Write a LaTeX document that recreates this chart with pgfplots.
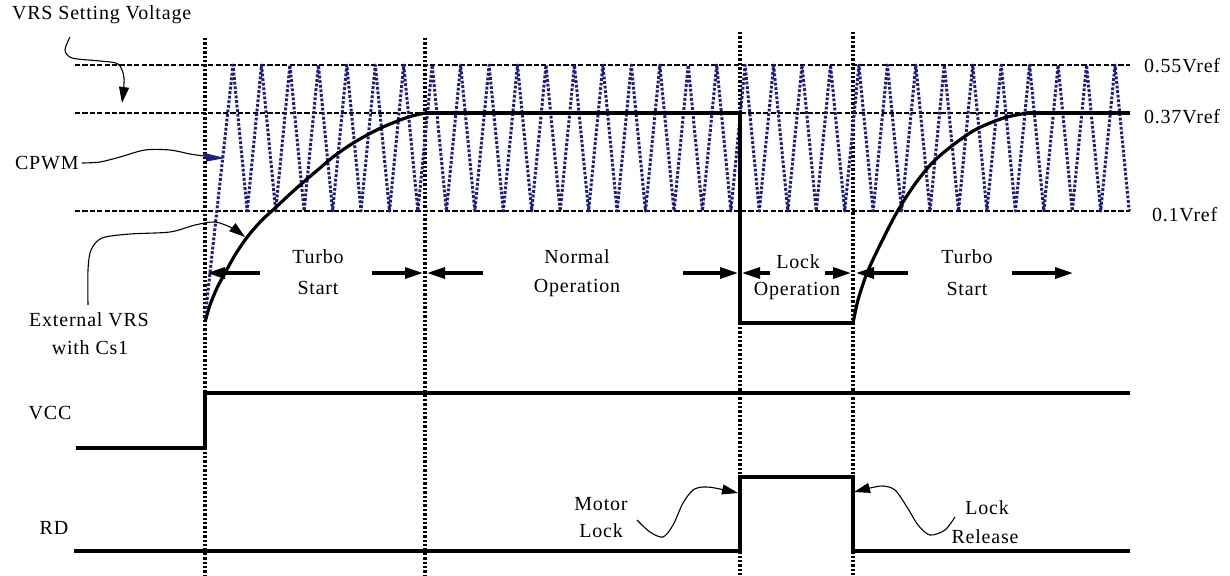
\documentclass[border=0pt]{standalone}
\usepackage{fontspec}
\setmainfont{Liberation Serif}[LetterSpace=4]
\usepackage{pgfplots}
\pgfplotsset{compat=1.18}
\usetikzlibrary{arrows.meta}
\definecolor{pwm}{RGB}{30,30,130}
\begin{document}
\begin{tikzpicture}
\begin{axis}[
  hide axis, scale only axis, width=615pt, height=287.5pt,
  xmin=0, xmax=1230, ymin=0, ymax=575, y dir=reverse, clip=false,
  every node/.style={font=\fontsize{13}{15}\selectfont, inner sep=0pt},
]
\coordinate (BL) at (axis cs:0,575);
\coordinate (TR) at (axis cs:1230,0);
% reference levels
\pgfplotsset{lvl/.style={black, line width=1.3pt, dash pattern=on 2.6pt off 1.1pt}}
\addplot[lvl] coordinates {(75,65) (1130,65)};
\addplot[lvl] coordinates {(75,113) (1130,113)};
\addplot[lvl] coordinates {(75,211) (1130,211)};
% vertical markers
\pgfplotsset{vmark/.style={black, line width=1.7pt, dash pattern=on 1.2pt off 1.0pt}}
\addplot[vmark] coordinates {(205,38) (205,575)};
\addplot[vmark] coordinates {(425,38) (425,575)};
\addplot[vmark] coordinates {(740,32) (740,575)};
\addplot[vmark] coordinates {(853,32) (853,575)};
% CPWM triangle wave
\addplot[pwm, line width=1.5pt, line join=round, dash pattern=on 1.4pt off 0.9pt] coordinates {
(205,318) (233.0,65) (247.2,211) (261.5,65) (275.7,211) (289.9,65) (304.1,211)
(318.4,65) (332.6,211) (346.8,65) (361.0,211) (375.3,65) (389.5,211)
(403.7,65) (417.9,211) (432.2,65) (446.4,211) (460.6,65) (474.8,211)
(489.1,65) (503.3,211) (517.5,65) (531.7,211) (546.0,65) (560.2,211)
(574.4,65) (588.6,211) (602.9,65) (617.1,211) (631.3,65) (645.5,211)
(659.8,65) (674.0,211) (688.2,65) (702.4,211) (716.7,65) (730.9,211)
(745.1,65) (759.3,211) (773.6,65) (787.8,211) (802.0,65) (816.2,211)
(830.5,65) (844.7,211) (858.9,65) (873.1,211) (887.4,65) (901.6,211)
(915.8,65) (930.0,211) (944.3,65) (958.5,211) (972.7,65) (986.9,211)
(1001.2,65) (1015.4,211) (1029.6,65) (1043.8,211) (1058.1,65) (1072.3,211)
(1086.5,65) (1100.7,211) (1115.0,65) (1129.2,211)};
% External VRS curve
\addplot[black, line width=1.6pt, smooth] coordinates {
(205,322) (210,305) (217,288) (225,273) (235,255) (245,240) (253,230) (263,219)
(273,210) (290,194) (307,179) (320,168) (333,157) (350,145) (367,135) (383,127)
(400,120) (412,116) (425,113)};
\addplot[black, line width=1.6pt] coordinates {(425,113) (740,113) (740,323) (853,323)};
\addplot[black, line width=1.6pt, smooth] coordinates {
(853,323) (858,300) (867,273) (880,245) (897,212) (915,184) (933,162) (953,145)
(973,131) (990,123) (1007,117) (1027,113)};
\addplot[black, line width=1.6pt] coordinates {(1027,113) (1130,113)};
% VCC and RD
\addplot[black, line width=1.6pt] coordinates {(76,448) (205,448) (205,393) (1130,393)};
\addplot[black, line width=1.6pt] coordinates {(74,551) (740,551) (740,477) (853,477) (853,551) (1130,551)};
% dimension arrows
\pgfplotsset{dimarr/.style={black, line width=1.6pt, -{Triangle[length=9pt,width=5.5pt]}}}
\addplot[dimarr] coordinates {(260,273) (207,273)};
\addplot[dimarr] coordinates {(372,273) (423,273)};
\addplot[dimarr] coordinates {(483,273) (427,273)};
\addplot[dimarr] coordinates {(683,273) (738,273)};
\addplot[dimarr] coordinates {(770,273) (742,273)};
\addplot[dimarr] coordinates {(825,273) (851,273)};
\addplot[dimarr] coordinates {(908,273) (856,273)};
\addplot[dimarr] coordinates {(1012,273) (1073,273)};
% callout squiggles
\pgfplotsset{callout/.style={black, line width=0.55pt, smooth, -{Triangle[length=8pt,width=5pt]}}}
\addplot[callout] coordinates {(70,37) (65,50) (72,58) (100,61) (118,64) (124,78) (122,103)};
\addplot[callout] coordinates {(88,305) (88,270) (91,250) (102,238) (130,234) (170,232) (195,225) (215,222) (232,228) (245,237)};
\addplot[black, line width=0.55pt, smooth] coordinates {(82,163) (100,162) (120,157) (145,150) (170,150) (190,154) (204,156)};
\addplot[pwm, fill=pwm] coordinates {(203,153) (223,158) (207,161) (203,153)};
\addplot[callout] coordinates {(637,520) (650,532) (663,537) (673,525) (683,503) (693,490) (703,487) (715,488) (738,493)};
\addplot[callout] coordinates {(955,517) (945,530) (930,535) (918,525) (907,507) (895,490) (883,486) (870,488) (854,492)};
% labels
\node[anchor=west] at (axis cs:5,15) {VRS Setting Voltage};
\node[anchor=west] at (axis cs:8,163) {CPWM};
\node at (axis cs:89,320) {External VRS};
\node at (axis cs:90,348) {with Cs1};
\node[anchor=west] at (axis cs:1137,66) {0.55Vref};
\node[anchor=west] at (axis cs:1137,117) {0.37Vref};
\node[anchor=west] at (axis cs:1145,215) {0.1Vref};
\node at (axis cs:318,257) {Turbo};
\node at (axis cs:318,288) {Start};
\node at (axis cs:577,257) {Normal};
\node at (axis cs:577,288) {Operation};
\node at (axis cs:798,262) {Lock};
\node at (axis cs:797,291) {Operation};
\node at (axis cs:967,257) {Turbo};
\node at (axis cs:967,289) {Start};
\node at (axis cs:50,413) {VCC};
\node at (axis cs:54,528) {RD};
\node at (axis cs:601,504) {Motor};
\node at (axis cs:601,531) {Lock};
\node at (axis cs:987,508) {Lock};
\node at (axis cs:985,537) {Release};
\end{axis}
\pgfresetboundingbox
\useasboundingbox (BL) rectangle (TR);
\end{tikzpicture}
\end{document}
